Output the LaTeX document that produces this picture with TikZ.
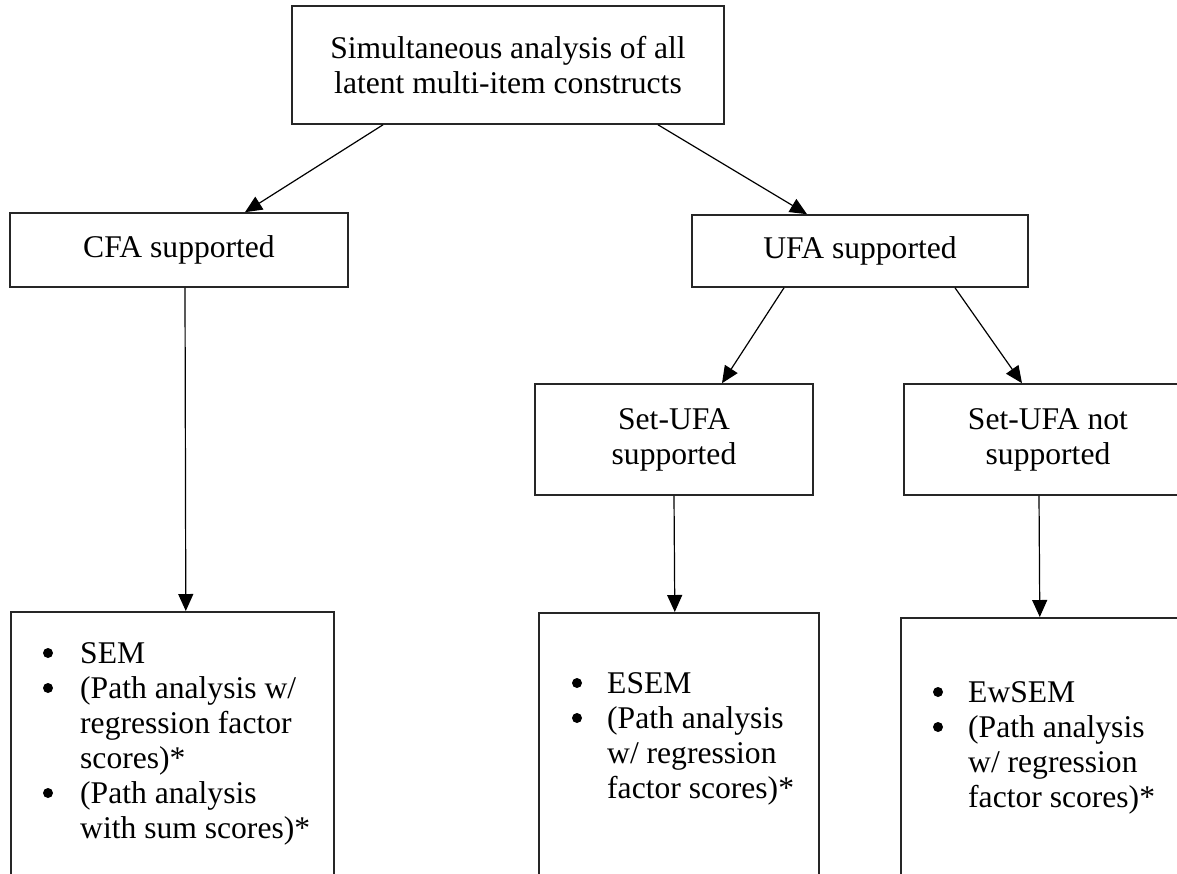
\documentclass[tikz,border=0pt]{standalone}
\usepackage{fontspec}
\setmainfont{Liberation Serif}
\usetikzlibrary{arrows.meta,calc}
\newcommand{\bgap}[1]{\makebox[#1][l]{}}
\begin{document}
\begin{tikzpicture}[x=1pt,y=-1pt,
  font=\fontsize{31.6}{35}\selectfont,
  box/.style={draw=black!85,line width=1.6pt,rectangle,inner sep=0pt,align=center},
  txt/.style={inner sep=0pt,anchor=north west,align=left},
  dot/.style={fill=black},
  arr/.style={line width=1.2pt,-{Triangle[length=17pt,width=15pt]}}]
\useasboundingbox (0,0) rectangle (1177,873);
\clip (0,0) rectangle (1177,873);
% boxes
\node[box,minimum width=432pt,minimum height=118pt] (top) at (508,65)
  {Simultaneous analysis of all\\latent multi-item constructs};
\node[box,minimum width=338pt,minimum height=74pt] (cfa) at (179,250) {CFA supported};
\node[box,minimum width=336pt,minimum height=72pt] (ufa) at (860,251) {UFA supported};
\node[box,minimum width=278pt,minimum height=111pt] (sufa) at (674,439.5) {Set-UFA\\supported};
\node[box,minimum width=288pt,minimum height=111pt] (nsufa) at (1048,439.5) {Set-UFA not\\supported};
\node[box,minimum width=323pt,minimum height=300pt,anchor=north west] (sem) at (10,611) {};
\node[box,minimum width=280pt,minimum height=300pt,anchor=north west] (esem) at (538,612) {};
\node[box,minimum width=300pt,minimum height=300pt,anchor=north west] (ewsem) at (900,617) {};
% bullet texts
\node[txt] (semt) at (41,639) {\begin{tabular}{@{}l@{}l@{}}
\bgap{39pt} & SEM\\
\bgap{39pt} & (Path analysis w/\\
 & regression factor\\
 & scores)*\\
\bgap{39pt} & (Path analysis\\
 & with sum scores)*
\end{tabular}};
\node[txt] (esemt) at (570,669) {\begin{tabular}{@{}l@{}l@{}}
\bgap{37pt} & ESEM\\
\bgap{37pt} & (Path analysis\\
 & w/ regression\\
 & factor scores)*
\end{tabular}};
\node[txt] (ewsemt) at (931,678) {\begin{tabular}{@{}l@{}l@{}}
\bgap{37pt} & EwSEM\\
\bgap{37pt} & (Path analysis\\
 & w/ regression\\
 & factor scores)*
\end{tabular}};
% bullets
\foreach \r in {0,1,4} \fill[dot] ($(semt.north west)+(7,14+35*\r)$) circle (5pt);
\foreach \r in {0,1} {
  \fill[dot] ($(esemt.north west)+(7,14+35*\r)$) circle (5pt);
  \fill[dot] ($(ewsemt.north west)+(7,14+35*\r)$) circle (5pt);
}
% connectors
\draw[arr] ([xshift=-125pt]top.south) -- ([xshift=66pt]cfa.north);
\draw[arr] ([xshift=150pt]top.south) -- ([xshift=-53pt]ufa.north);
\draw[arr] ([xshift=6pt]cfa.south) -- ([xshift=13.5pt]sem.north);
\draw[arr] ([xshift=-76pt]ufa.south) -- ([xshift=48pt]sufa.north);
\draw[arr] ([xshift=95pt]ufa.south) -- ([xshift=-26pt]nsufa.north);
\draw[arr] (sufa.south) -- ([xshift=-4pt]esem.north);
\draw[arr] ([xshift=-9pt]nsufa.south) -- ([xshift=-11pt]ewsem.north);
\end{tikzpicture}
\end{document}
